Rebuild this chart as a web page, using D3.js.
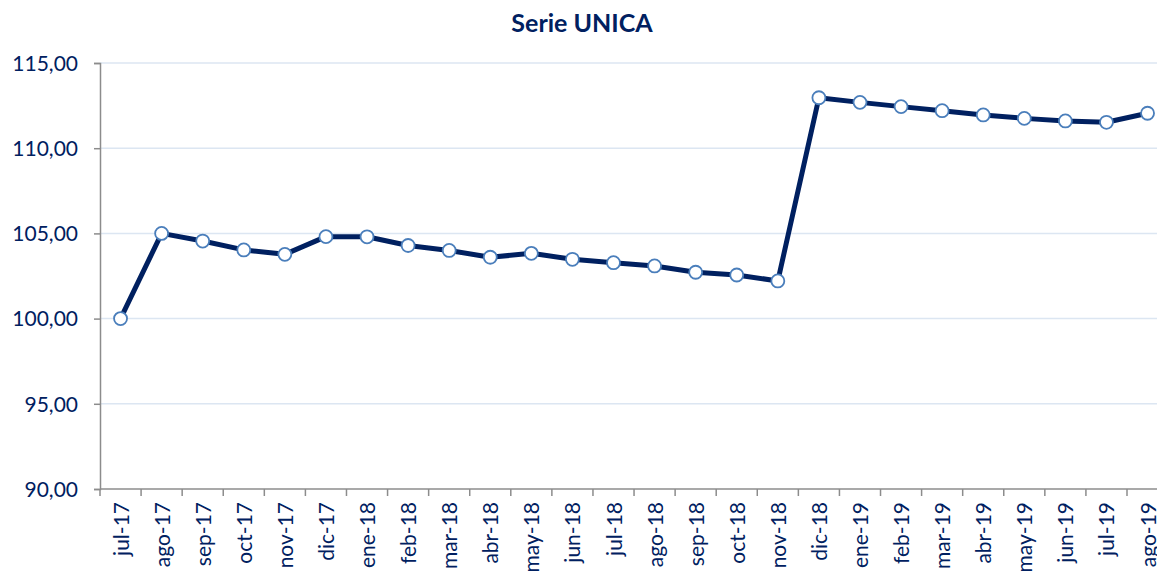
<!DOCTYPE html>
<html>
<head>
<meta charset="utf-8">
<script src="https://cdn.jsdelivr.net/npm/d3@7"></script>
<style>
  body { margin: 0; background: #fff; }
  svg { display: block; }
</style>
</head>
<body>
<div id="chart"></div>
<script>
// months and index values
const months = ["jul-17","ago-17","sep-17","oct-17","nov-17","dic-17","ene-18","feb-18","mar-18","abr-18",
  "may-18","jun-18","jul-18","ago-18","sep-18","oct-18","nov-18","dic-18","ene-19","feb-19",
  "mar-19","abr-19","may-19","jun-19","jul-19","ago-19"];
const values = [100.00,105.00,104.55,104.03,103.77,104.81,104.80,104.29,104.00,103.60,
  103.83,103.48,103.28,103.09,102.72,102.56,102.21,112.96,112.69,112.44,
  112.20,111.95,111.75,111.60,111.52,112.05];
const yTicks = [90, 95, 100, 105, 110, 115];

const W = 1157, H = 571;
const margin = {top: 63, left: 100, bottom: 82};
const bandW = 41.08;
const plotRight = margin.left + bandW * months.length;
const navy = "#002060";
const font = "Lato, 'Liberation Sans', sans-serif";

const svg = d3.select("#chart").append("svg")
  .attr("width", W).attr("height", H);

const x = d3.scaleBand().domain(months).range([margin.left, plotRight]);
const y = d3.scaleLinear().domain([90, 115]).range([H - margin.bottom, margin.top]);

// gridlines
svg.append("g").selectAll("line")
  .data(yTicks.slice(1))
  .enter().append("line")
  .attr("x1", margin.left).attr("x2", plotRight)
  .attr("y1", d => y(d)).attr("y2", d => y(d))
  .attr("stroke", "#dce6f2").attr("stroke-width", 1.5);

// y axis
const yAxis = svg.append("g")
  .attr("transform", "translate(" + margin.left + ",0)")
  .call(d3.axisLeft(y).tickValues(yTicks).tickSize(6).tickPadding(16)
    .tickFormat(d => d3.format(".2f")(d).replace(".", ",")));
yAxis.select(".domain").attr("stroke", "#8c8c8c").attr("stroke-width", 1.5);
yAxis.selectAll(".tick line").attr("stroke", "#8c8c8c").attr("stroke-width", 1.5);
yAxis.selectAll("text").attr("fill", navy)
  .attr("font-family", font).attr("font-size", 21).attr("dy", "0.35em");

// x axis: ticks at band boundaries
const xAxisG = svg.append("g").attr("transform", "translate(0," + y(90) + ")");
xAxisG.append("line")
  .attr("x1", margin.left).attr("x2", plotRight)
  .attr("stroke", "#8c8c8c").attr("stroke-width", 1.5);
xAxisG.selectAll(".tk")
  .data(months)
  .enter().append("line")
  .attr("x1", d => x(d)).attr("x2", d => x(d))
  .attr("y1", 0).attr("y2", 7)
  .attr("stroke", "#8c8c8c").attr("stroke-width", 1.5);
xAxisG.selectAll("text")
  .data(months)
  .enter().append("text")
  .attr("transform", d => "translate(" + (x(d) + x.bandwidth() / 2 + 8) + ",13) rotate(-90)")
  .attr("text-anchor", "end")
  .attr("fill", navy)
  .attr("font-family", font).attr("font-size", 21)
  .text(d => d);

// line
const line = d3.line()
  .x((d, i) => x(months[i]) + x.bandwidth() / 2)
  .y(d => y(d));
svg.append("path")
  .datum(values)
  .attr("d", line)
  .attr("fill", "none")
  .attr("stroke", navy)
  .attr("stroke-width", 5)
  .attr("stroke-linejoin", "round");

svg.append("g").selectAll("circle")
  .data(values)
  .enter().append("circle")
  .attr("cx", (d, i) => x(months[i]) + x.bandwidth() / 2)
  .attr("cy", d => y(d))
  .attr("r", 6.5)
  .attr("fill", "#fff")
  .attr("stroke", "#4a7ebb")
  .attr("stroke-width", 1.8);

// title
svg.append("text")
  .attr("x", 582).attr("y", 32)
  .attr("text-anchor", "middle")
  .attr("fill", navy)
  .attr("font-family", font).attr("font-size", 25).attr("font-weight", "bold")
  .text("Serie UNICA");
</script>
</body>
</html>
